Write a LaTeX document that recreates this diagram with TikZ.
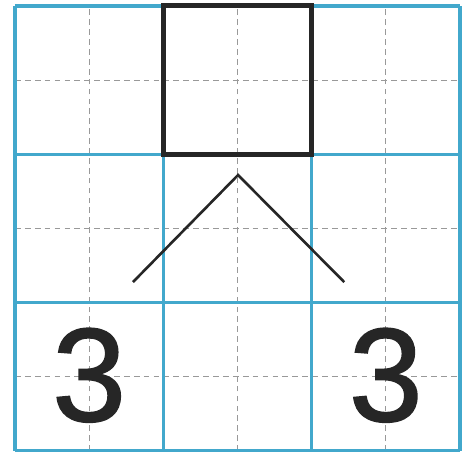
\documentclass[tikz,border=0pt]{standalone}
\usepackage{fontspec}
\newfontfamily\digitfont[FakeBold=1.2]{Liberation Sans}
\usepackage{tikz}
\usetikzlibrary{positioning,calc}
\definecolor{gridblue}{RGB}{66,168,204}

\begin{document}
\begin{tikzpicture}[x=2cm,y=2cm,
   guide/.style={gray!80,dashed,line width=0.45pt,dash pattern=on 2.2pt off 1.6pt},
   cellline/.style={gridblue,line width=1.2pt},
   answerbox/.style={black!85,line width=1.9pt},
   digit/.style={font=\digitfont\fontsize{51}{51}\selectfont,text=black!85,inner sep=0pt}]
  \useasboundingbox (-0.101,-0.027) rectangle (3.088,3.04);
  % dashed half lines
  \foreach \k in {0.5,1.5,2.5} {
    \draw[guide] (\k,0) -- (\k,3);
    \draw[guide] (0,\k) -- (3,\k);
  }
  % blue cells
  \foreach \k in {0,1,2,3} {
    \draw[cellline] (\k,0) -- (\k,3);
    \draw[cellline] (0,\k) -- (3,\k);
  }
  \draw[answerbox] (1,2) rectangle (2,3);
  \coordinate (apex) at (1.504,1.86);
  \coordinate (leftend) at (0.795,1.138);
  \coordinate (rightend) at (2.22,1.138);
  \draw[line width=1pt,black!85] (leftend) -- (apex) -- (rightend);
  \node[digit] (leftthree) at (0.5,0.51) {3};
  \node[digit] (rightthree) at (2.5,0.51) {3};
\end{tikzpicture}
\end{document}
